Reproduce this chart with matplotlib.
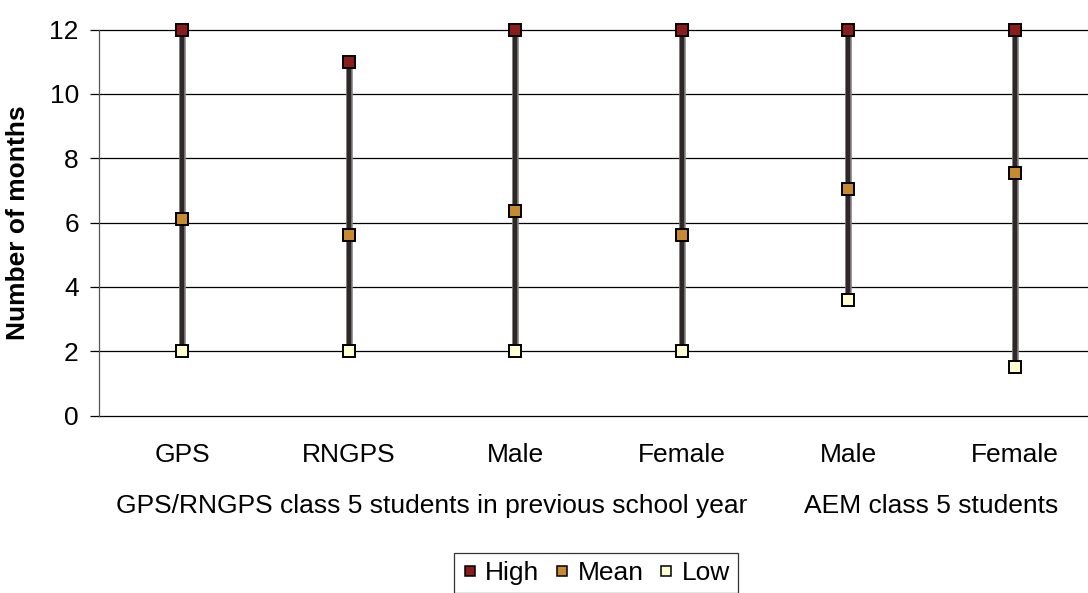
import matplotlib
matplotlib.use("Agg")
import matplotlib.pyplot as plt
from matplotlib.transforms import blended_transform_factory
from matplotlib.lines import Line2D

plt.rcParams["font.family"] = ["Liberation Sans", "DejaVu Sans"]

# Data: high / mean / low number of months per group
categories = ["GPS", "RNGPS", "Male", "Female", "Male", "Female"]
groups = ["GPS/RNGPS class 5 students in previous school year", "AEM class 5 students"]
group_members = [[0, 1, 2, 3], [4, 5]]
high = [12, 11, 12, 12, 12, 12]
mean = [6.1, 5.6, 6.35, 5.6, 7.05, 7.55]
low = [2, 2, 2, 2, 3.6, 1.5]
yticks = [0, 2, 4, 6, 8, 10, 12]

FS = 19
W, H = 1088, 593
fig = plt.figure(figsize=(W / 100, H / 100), dpi=100)
ax = fig.add_axes([99 / W, 1 - 415.5 / H, 999 / W, 386 / H])

x = [i + 0.5 for i in range(len(categories))]
ax.set_xlim(0, len(categories))
ax.set_ylim(0, 12)

# gridlines
for t in yticks:
    ax.axhline(t, color="black", lw=0.9, zorder=1, clip_on=False)

# high-low bars (grey halo + dark core)
for xi, lo, hi in zip(x, low, high):
    ax.plot([xi, xi], [lo, hi], color="#8a8686", lw=4.8, solid_capstyle="butt", zorder=2)
    ax.plot([xi, xi], [lo, hi], color="#2e2727", lw=3.2, solid_capstyle="butt", zorder=3)

mk = dict(marker="s", ls="none", markersize=8.2, markeredgecolor="black",
          markeredgewidth=1.4, zorder=5, clip_on=False)
ax.plot(x, high, markerfacecolor="#8c1c1c", **mk)
ax.plot(x, mean, markerfacecolor="#c88a2e", **mk)
ax.plot(x, low, markerfacecolor="#ffffd2", **mk)

# axes styling
for s in ["top", "right", "bottom"]:
    ax.spines[s].set_visible(False)
ax.spines["left"].set_color("#555555")
ax.spines["left"].set_linewidth(0.9)
ax.set_yticks(yticks)
ax.tick_params(axis="y", direction="out", length=6.5, width=0.9, color="black",
               pad=8, labelsize=FS)
ax.set_xticks([])

# category and group labels
tr = blended_transform_factory(ax.transData, fig.transFigure)
for xi, c in zip(x, categories):
    ax.text(xi, 1 - 462 / H, c, transform=tr, ha="center", va="baseline", fontsize=FS)
for g, members in zip(groups, group_members):
    gx = sum(x[m] for m in members) / len(members)
    ax.text(gx, 1 - 513 / H, g, transform=tr, ha="center", va="baseline", fontsize=FS)

fig.text(18 / W, 1 - 222.5 / H, "Number of months", rotation=90, ha="center",
         va="center", fontsize=FS, fontweight="bold")

# legend
handles = [
    Line2D([], [], marker="s", ls="none", markersize=7, markeredgecolor="black",
           markeredgewidth=1.1, markerfacecolor=c)
    for c in ["#8c1c1c", "#c88a2e", "#ffffd2"]
]
leg = fig.legend(handles, ["High", "Mean", "Low"], loc="upper center",
                 bbox_to_anchor=(596 / W, 1 - 553 / H), borderaxespad=0, ncol=3,
                 frameon=True, fancybox=False, edgecolor="black", fontsize=FS,
                 handlelength=0.6, handletextpad=0.3, columnspacing=0.55, borderpad=0.3)
leg.get_frame().set_linewidth(0.9)

fig.savefig("out.png", dpi=100)
